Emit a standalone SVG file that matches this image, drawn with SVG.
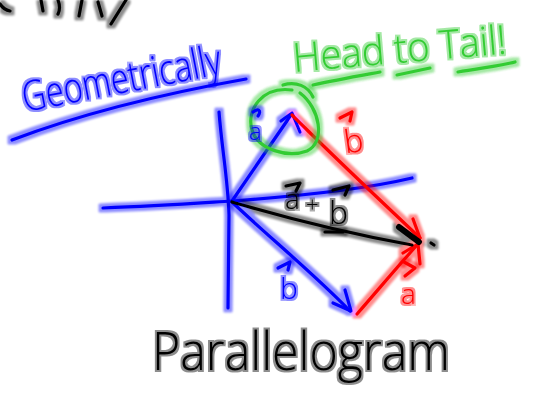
<svg xmlns="http://www.w3.org/2000/svg" width="536" height="394" viewBox="0 0 536 394">
<defs>
<filter id="glow" filterUnits="userSpaceOnUse" x="0" y="0" width="536" height="394">
<feMorphology in="SourceGraphic" operator="dilate" radius="2.6" result="d"/>
<feGaussianBlur in="d" stdDeviation="0.9" result="b"/>
<feComponentTransfer in="b" result="h"><feFuncA type="linear" slope="0.45"/></feComponentTransfer>
<feMerge><feMergeNode in="h"/><feMergeNode in="SourceGraphic"/></feMerge>
</filter>
<filter id="tglow" filterUnits="userSpaceOnUse" x="0" y="0" width="536" height="394">
<feMorphology in="SourceGraphic" operator="dilate" radius="1.8" result="d"/>
<feGaussianBlur in="d" stdDeviation="0.7" result="b"/>
<feComponentTransfer in="b" result="h"><feFuncA type="linear" slope="0.45"/></feComponentTransfer>
<feMerge><feMergeNode in="h"/><feMergeNode in="SourceGraphic"/></feMerge>
</filter>
<style>
.ink{fill:none;stroke-linecap:round;stroke-linejoin:round;stroke-width:3.2}
.blue{stroke:#0000ff}
.red{stroke:#ff0000}
.green{stroke:#33cc33}
.black{stroke:#000000}
.txt{font-family:"Open Sans","Liberation Sans",Arial,sans-serif;font-weight:300}
.tb{fill:#0000ff}
.tr{fill:#ff0000}
.tg{fill:#33cc33}
.tk{fill:#000000}
</style>
</defs>
<rect width="536" height="394" fill="#ffffff"/>

<g id="top-fragment" class="ink black" filter="url(#glow)">
<path d="M0,4 Q4,10 10,11"/>
<path d="M41,0 L43,11"/>
<path d="M58,0 Q61,8 58,14"/>
<path d="M82,0 L79,16"/>
<path d="M98,2 L102,16"/>
<path d="M126,0 L111,24"/>
</g>

<g id="geometrically">
<g filter="url(#tglow)">
<text class="txt tb" x="0" y="0" font-size="42" textLength="202" lengthAdjust="spacingAndGlyphs" transform="translate(25,112) rotate(-11)">Geometrically</text>
</g>
<path class="ink blue" d="M12,140 C70,118 150,96 246,79" filter="url(#glow)"/>
</g>

<g id="head-to-tail">
<g filter="url(#tglow)">
<text class="txt tg" x="0" y="0" font-size="40" textLength="214" lengthAdjust="spacingAndGlyphs" transform="translate(294,72) rotate(-5)">Head to Tail!</text>
</g>
<g class="ink green" filter="url(#glow)">
<path d="M313,85 C335,80 358,76 380,72"/>
<path d="M397,75 L430,68"/>
<path d="M458,72 C480,68 500,66 515,62"/>
</g>
</g>

<g id="axes" class="ink blue" filter="url(#glow)">
<path d="M219,112 C222,150 228,180 229,215 L228,308"/>
<path d="M103,208 C160,206 200,203 232,201 C300,196 370,188 412,178"/>
</g>

<g id="connectors" filter="url(#glow)">
<g id="vector-a-blue" class="ink blue">
<path d="M232,201 L291,115"/>
<path d="M281,121 L292,113 L300,132"/>
</g>
<g id="vector-b-blue" class="ink blue">
<path d="M232,202 C270,238 312,272 350,311"/>
<path d="M345,290 L351,311 L333,303"/>
</g>
<g id="vector-b-red" class="ink red">
<path d="M292,115 C335,158 380,200 420,238"/>
<path d="M413,219 L420,238"/>
</g>
<g id="vector-a-red" class="ink red">
<path d="M357,314 C378,290 398,266 418,244"/>
<path d="M403,253 L418,244 L420,264"/>
</g>
<g id="vector-sum" class="ink black">
<path d="M232,202 C280,216 340,232 412,245"/>
<path d="M399,227 L419,242" stroke-width="6"/>
<path d="M431,243 L434,245"/>
</g>
</g>

<g id="green-circle" class="ink green" filter="url(#glow)">
<path d="M292,90 C262,86 246,110 252,130 C258,150 288,158 307,151 C326,142 320,108 300,93"/>
<path d="M283,85 C296,81 308,86 313,97"/>
</g>

<g id="label-a-blue">
<path class="ink blue" d="M253,112 C258,108 262,110 258,116" filter="url(#glow)"/>
<text class="txt tb" x="249" y="140" font-size="24" filter="url(#tglow)">a</text>
</g>

<g id="label-b-blue">
<path class="ink blue" d="M278,268 L290,262 L288,270" filter="url(#glow)"/>
<text class="txt tb" x="280" y="299" font-size="30" filter="url(#tglow)">b</text>
</g>

<g id="label-b-red">
<path class="ink red" d="M340,118 L352,112 L350,121" filter="url(#glow)"/>
<g filter="url(#tglow)">
<text class="txt tr" x="344" y="152" font-size="32" transform="rotate(-8 355 140)">b</text>
</g>
</g>

<g id="label-a-red">
<path class="ink red" d="M404,262 L415,268 L405,276" filter="url(#glow)"/>
<text class="txt tr" x="401" y="304" font-size="28" filter="url(#tglow)">a</text>
</g>

<g id="label-sum">
<path class="ink black" d="M286,186 L300,183 L296,191" filter="url(#glow)"/>
<text class="txt tk" x="285" y="209" font-size="28" filter="url(#tglow)">a</text>
<text class="txt tk" x="306" y="212" font-size="22" filter="url(#tglow)">+</text>
<path class="ink black" d="M333,190 L349,186 L345,195" filter="url(#glow)"/>
<text class="txt tk" x="329" y="224" font-size="32" filter="url(#tglow)">b</text>
<path class="ink black" d="M325,232 L343,232" filter="url(#glow)"/>
</g>

<g id="parallelogram">
<text class="txt tk" x="152" y="370" font-size="54" textLength="298" lengthAdjust="spacingAndGlyphs" filter="url(#tglow)">Parallelogram</text>
</g>
</svg>
